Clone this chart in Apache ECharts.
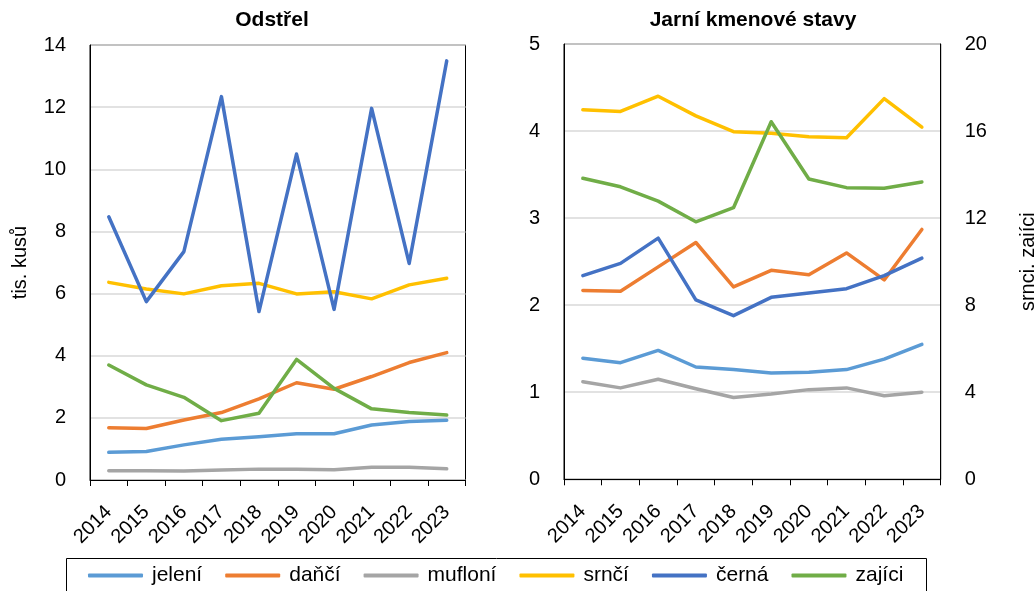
<!DOCTYPE html>
<html>
<head>
<meta charset="utf-8">
<script src="https://cdn.jsdelivr.net/npm/echarts@6/dist/echarts.min.js"></script>
<style>
html,body{margin:0;padding:0;background:#fff;}
#c{width:1034px;height:591px;}
</style>
</head>
<body>
<div id="c"></div>
<script>
const years = ['2014','2015','2016','2017','2018','2019','2020','2021','2022','2023'];
const seriesNames = ['jelení','daňčí','mufloní','srnčí','černá','zajíci'];
const colors = ['#5B9BD5','#ED7D31','#A5A5A5','#FFC000','#4472C4','#70AD47'];

// Odstřel (tis. kusů)
const odstrelJeleni  = [0.89,0.92,1.13,1.31,1.39,1.49,1.49,1.77,1.88,1.92];
const odstrelDanci   = [1.68,1.66,1.93,2.17,2.61,3.13,2.92,3.33,3.78,4.10];
const odstrelMufloni = [0.30,0.30,0.29,0.32,0.35,0.35,0.33,0.41,0.41,0.36];
const odstrelSrnci   = [6.36,6.15,5.99,6.25,6.33,5.99,6.06,5.83,6.28,6.49];
const odstrelCerna   = [8.47,5.74,7.35,12.34,5.42,10.49,5.49,11.96,6.97,13.49];
const odstrelZajici  = [3.70,3.06,2.66,1.91,2.15,3.88,2.95,2.29,2.17,2.09];

// Jarní kmenové stavy (left axis: jelení, daňčí, mufloní, černá; right axis: srnčí, zajíci)
const stavyJeleni  = [1.39,1.34,1.48,1.29,1.26,1.22,1.23,1.26,1.38,1.55];
const stavyDanci   = [2.17,2.16,2.44,2.72,2.21,2.40,2.35,2.60,2.29,2.87];
const stavyMufloni = [1.12,1.05,1.15,1.04,0.94,0.98,1.03,1.05,0.96,1.00];
const stavySrnci   = [16.98,16.90,17.60,16.70,15.97,15.90,15.74,15.69,17.49,16.18];
const stavyCerna   = [2.34,2.48,2.77,2.06,1.88,2.09,2.14,2.19,2.34,2.54];
const stavyZajici  = [13.83,13.44,12.78,11.83,12.48,16.43,13.80,13.40,13.37,13.66];

const FONT = 'Liberation Sans, Arial, sans-serif';
const odstrelData = [odstrelJeleni, odstrelDanci, odstrelMufloni, odstrelSrnci, odstrelCerna, odstrelZajici];
const stavyData = [stavyJeleni, stavyDanci, stavyMufloni, stavySrnci, stavyCerna, stavyZajici];
const stavyAxis = [1, 1, 1, 2, 1, 2];

function mkX(gridIndex){
  return {
    type:'category', gridIndex, data: years, boundaryGap: true,
    axisLine:{show:true, lineStyle:{color:'#000', width:1}},
    axisTick:{show:true, length:6, lineStyle:{color:'#000'}},
    axisLabel:{rotate:45, color:'#000', fontSize:20, fontFamily:FONT, margin:29, interval:0}
  };
}
function mkY(gridIndex, min, max, interval, pos, split, name, nameGap){
  return {
    type:'value', gridIndex, min, max, interval, position: pos,
    name, nameLocation:'middle', nameGap, nameRotate:90,
    nameTextStyle:{color:'#000', fontSize:20, fontFamily:FONT},
    axisLine:{show:true, lineStyle:{color:'#000', width:1}},
    axisTick:{show:false},
    axisLabel:{color:'#000', fontSize:20, fontFamily:FONT, margin:24},
    splitLine:{show:split, lineStyle:{color:'#D9D9D9', width:1.5}}
  };
}

const series = [];
seriesNames.forEach((n,i)=>{
  series.push({
    name:n, type:'line', xAxisIndex:0, yAxisIndex:0, data: odstrelData[i],
    showSymbol:false, symbol:'none', smooth:false,
    lineStyle:{color:colors[i], width:3.5, cap:'round', join:'round'},
    itemStyle:{color:colors[i]}
  });
});
seriesNames.forEach((n,i)=>{
  series.push({
    name:n, type:'line', xAxisIndex:1, yAxisIndex:stavyAxis[i], data: stavyData[i],
    showSymbol:false, symbol:'none', smooth:false,
    lineStyle:{color:colors[i], width:3.5, cap:'round', join:'round'},
    itemStyle:{color:colors[i]}
  });
});

const chart = echarts.init(document.getElementById('c'), null, {renderer:'canvas'});
chart.setOption({
  animation:false,
  backgroundColor:'#fff',
  textStyle:{fontFamily:FONT},
  title:[
    {text:'Odstřel', left:272, top:10, textAlign:'center', padding:0,
     textStyle:{fontSize:21, fontWeight:'bold', color:'#000', fontFamily:FONT}},
    {text:'Jarní kmenové stavy', left:753, top:10, textAlign:'center', padding:0,
     textStyle:{fontSize:21, fontWeight:'bold', color:'#000', fontFamily:FONT}}
  ],
  grid:[
    {left:90, right:568.5, top:45, bottom:111, show:true, borderColor:'#000', borderWidth:1,
     backgroundColor:'transparent', containLabel:false, outerBoundsMode:'none'},
    {left:564, right:93.3, top:44, bottom:111.7, show:true, borderColor:'#000', borderWidth:1,
     backgroundColor:'transparent', containLabel:false, outerBoundsMode:'none'}
  ],
  xAxis:[mkX(0), mkX(1)],
  yAxis:[
    mkY(0, 0, 14, 2, 'left', true, 'tis. kusů', 60),
    mkY(1, 0, 5, 1, 'left', true, '', 30),
    mkY(1, 0, 20, 4, 'right', false, 'srnci, zajíci', 78)
  ],
  legend:{
    data: seriesNames, left:88, top:565, padding:0,
    icon:'roundRect', itemWidth:55, itemHeight:4, itemGap:23,
    textStyle:{color:'#000', fontSize:21, fontFamily:FONT, padding:[0,0,0,4]}
  },
  graphic:[{
    type:'rect', left:64, top:556, silent:true,
    shape:{width:860, height:60},
    style:{fill:'none', stroke:'#000', lineWidth:1}
  }],
  series
});
</script>
</body>
</html>
